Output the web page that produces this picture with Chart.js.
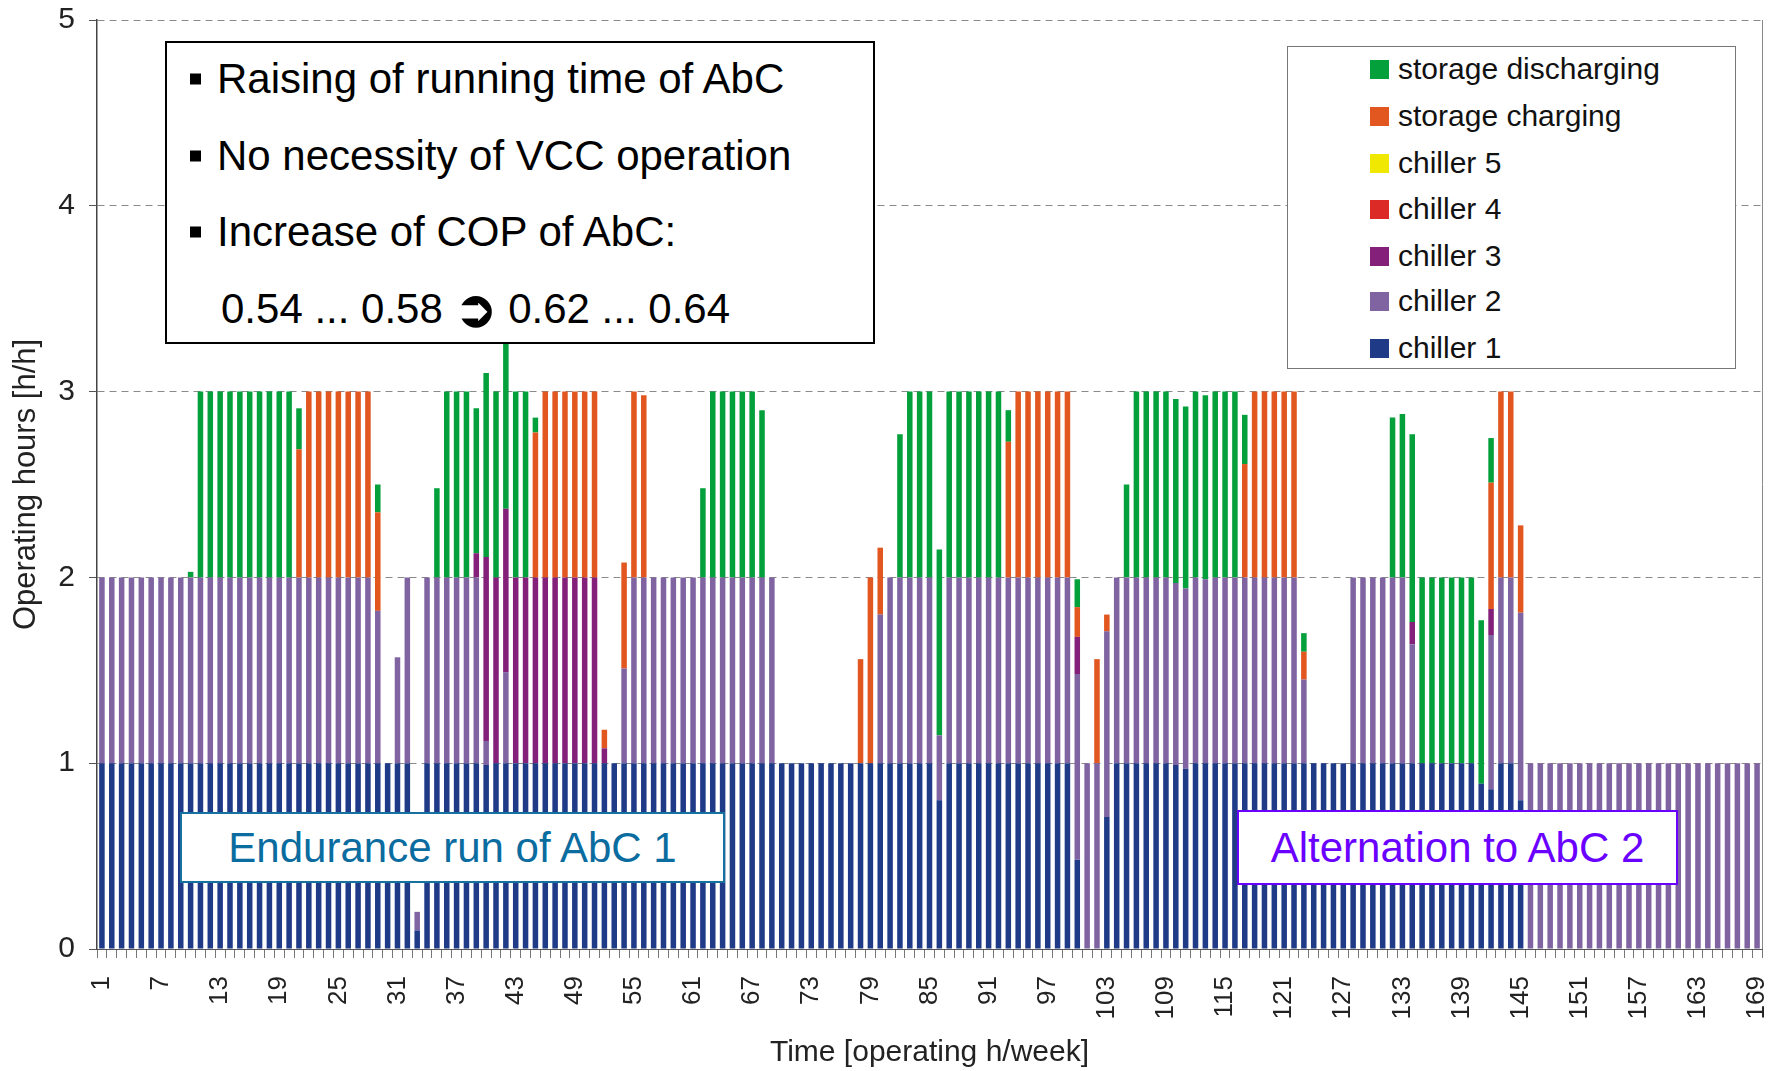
<!DOCTYPE html>
<html>
<head>
<meta charset="utf-8">
<title>Operating hours per chiller</title>
<script src="https://cdn.jsdelivr.net/npm/chart.js@4.4.1/dist/chart.umd.min.js"></script>
<style>
  body { margin: 0; background: #fff; font-family: "Liberation Sans", Arial, sans-serif; }
  #wrap { position: relative; width: 1785px; height: 1071px; }
  #chart { position: absolute; left: 0; top: 0; }
  .box { position: absolute; background: #fff; box-sizing: border-box; }
  .line { position: absolute; white-space: nowrap; transform: translateY(-50%); line-height: 1; }
  .bullet { position: absolute; width: 11px; height: 11px; background: #000; transform: translateY(-50%); }
  .arrow { font-size: 50px; font-weight: bold; vertical-align: -3px; }
  .tag { display: flex; align-items: center; justify-content: center; font-size: 42px; white-space: nowrap; }
  #legend { left: 1287px; top: 46px; width: 449px; height: 323px; border: 1px solid #777; }
  .item { position: absolute; left: 82px; font-size: 30px; color: #111; white-space: nowrap;
          transform: translateY(-50%); line-height: 1; display: flex; align-items: center; }
  .swatch { width: 19px; height: 19px; margin-right: 9px; }
</style>
</head>
<body>
<div id="wrap">
  <canvas id="chart" width="1785" height="1071"></canvas>

  <div class="box" style="left:165px; top:41px; width:710px; height:303px; border:2px solid #000;">
    <div class="bullet" style="left:23px; top:36px;"></div>
    <div class="line" style="left:50px; top:36px; font-size:42px;">Raising of running time of AbC</div>
    <div class="bullet" style="left:23px; top:113px;"></div>
    <div class="line" style="left:50px; top:113px; font-size:42px;">No necessity of VCC operation</div>
    <div class="bullet" style="left:23px; top:189px;"></div>
    <div class="line" style="left:50px; top:189px; font-size:42px;">Increase of COP of AbC:</div>
    <div class="line" style="left:54px; top:266px; font-size:42px;">0.54 ... 0.58 <span class="arrow">➲</span> 0.62 ... 0.64</div>
  </div>

  <div class="box tag" style="left:180px; top:812px; width:545px; height:71px; border:2px solid #1670a0; color:#0b6c9f;">Endurance run of AbC 1</div>
  <div class="box tag" style="left:1237px; top:810px; width:441px; height:75px; border:2px solid #6a00ff; color:#6a00ff;">Alternation to AbC 2</div>

  <div class="box" id="legend"></div>
</div>

<script>
const hours = [];
for (let h = 1; h <= 169; h++) hours.push(String(h));

const chiller1 = [
  1, 1, 1, 1, 1, 1, 1, 1, 1, 1,
  1, 1, 1, 1, 1, 1, 1, 1, 1, 1,
  1, 1, 1, 1, 1, 1, 1, 1, 1, 1,
  1, 1, 0.1, 1, 1, 1, 1, 1, 1, 0.99,
  1, 1, 1, 1, 1, 1, 1, 1, 1, 1,
  1, 1, 1, 1, 1, 1, 1, 1, 1, 1,
  1, 1, 1, 1, 1, 1, 1, 1, 1, 1,
  1, 1, 1, 1, 1, 1, 1, 1, 1, 1,
  1, 1, 1, 1, 1, 0.8, 1, 1, 1, 1,
  1, 1, 1, 1, 1, 1, 1, 1, 1, 0.48,
  0, 0, 0.71, 1, 1, 1, 1, 1, 1, 0.99,
  0.97, 1, 1, 1, 1, 1, 1, 1, 1, 1,
  1, 1, 1, 1, 1, 1, 1, 1, 1, 1,
  1, 1, 1, 1, 1, 1, 1, 1, 1, 1,
  0.89, 0.86, 1, 1, 0.8, 0, 0, 0, 0, 0,
  0, 0, 0, 0, 0, 0, 0, 0, 0, 0,
  0, 0, 0, 0, 0, 0, 0, 0, 0
];

const chiller2 = [
  1, 1, 1, 1, 1, 1, 1, 1, 1, 1,
  1, 1, 1, 1, 1, 1, 1, 1, 1, 1,
  1, 1, 1, 1, 1, 1, 1, 1, 0.82, 0,
  0.57, 1, 0.1, 1, 1, 1, 1, 1, 1, 0.13,
  0, 0.49, 0, 0, 0, 0, 0, 0, 0, 0,
  0, 0, 0, 0.51, 1, 1, 1, 1, 1, 1,
  1, 1, 1, 1, 1, 1, 1, 1, 1, 0,
  0, 0, 0, 0, 0, 0, 0, 0, 0, 0.8,
  1, 1, 1, 1, 1, 0.35, 1, 1, 1, 1,
  1, 1, 1, 1, 1, 1, 1, 1, 1, 1,
  1, 1, 1, 1, 1, 1, 1, 1, 1, 0.98,
  0.97, 1, 0.99, 1, 1, 1, 1, 1, 1, 1,
  1, 1, 0.45, 0, 0, 0, 0, 1, 1, 1,
  1, 1, 1, 0.64, 0, 0, 0, 0, 0, 0,
  0, 0.83, 1, 1, 1.01, 1, 1, 1, 1, 1,
  1, 1, 1, 1, 1, 1, 1, 1, 1, 1,
  1, 1, 1, 1, 1, 1, 1, 1, 1
];

const chiller3 = [
  0, 0, 0, 0, 0, 0, 0, 0, 0, 0,
  0, 0, 0, 0, 0, 0, 0, 0, 0, 0,
  0, 0, 0, 0, 0, 0, 0, 0, 0, 0,
  0, 0, 0, 0, 0, 0, 0, 0, 0.13, 0.99,
  1, 0.88, 1, 1, 1, 1, 1, 1, 1, 1,
  1, 0.08, 0, 0, 0, 0, 0, 0, 0, 0,
  0, 0, 0, 0, 0, 0, 0, 0, 0, 0,
  0, 0, 0, 0, 0, 0, 0, 0, 0, 0,
  0, 0, 0, 0, 0, 0, 0, 0, 0, 0,
  0, 0, 0, 0, 0, 0, 0, 0, 0, 0.2,
  0, 0, 0, 0, 0, 0, 0, 0, 0, 0,
  0, 0, 0, 0, 0, 0, 0, 0, 0, 0,
  0, 0, 0, 0, 0, 0, 0, 0, 0, 0,
  0, 0, 0, 0.12, 0, 0, 0, 0, 0, 0,
  0, 0.14, 0, 0, 0, 0, 0, 0, 0, 0,
  0, 0, 0, 0, 0, 0, 0, 0, 0, 0,
  0, 0, 0, 0, 0, 0, 0, 0, 0
];

// chillers 4 and 5 never run in this week
const chiller4 = [
  0, 0, 0, 0, 0, 0, 0, 0, 0, 0, 0, 0, 0, 0, 0, 0, 0, 0, 0, 0,
  0, 0, 0, 0, 0, 0, 0, 0, 0, 0, 0, 0, 0, 0, 0, 0, 0, 0, 0, 0,
  0, 0, 0, 0, 0, 0, 0, 0, 0, 0, 0, 0, 0, 0, 0, 0, 0, 0, 0, 0,
  0, 0, 0, 0, 0, 0, 0, 0, 0, 0, 0, 0, 0, 0, 0, 0, 0, 0, 0, 0,
  0, 0, 0, 0, 0, 0, 0, 0, 0, 0, 0, 0, 0, 0, 0, 0, 0, 0, 0, 0,
  0, 0, 0, 0, 0, 0, 0, 0, 0, 0, 0, 0, 0, 0, 0, 0, 0, 0, 0, 0,
  0, 0, 0, 0, 0, 0, 0, 0, 0, 0, 0, 0, 0, 0, 0, 0, 0, 0, 0, 0,
  0, 0, 0, 0, 0, 0, 0, 0, 0, 0, 0, 0, 0, 0, 0, 0, 0, 0, 0, 0,
  0, 0, 0, 0, 0, 0, 0, 0, 0
];

const chiller5 = [
  0, 0, 0, 0, 0, 0, 0, 0, 0, 0, 0, 0, 0, 0, 0, 0, 0, 0, 0, 0,
  0, 0, 0, 0, 0, 0, 0, 0, 0, 0, 0, 0, 0, 0, 0, 0, 0, 0, 0, 0,
  0, 0, 0, 0, 0, 0, 0, 0, 0, 0, 0, 0, 0, 0, 0, 0, 0, 0, 0, 0,
  0, 0, 0, 0, 0, 0, 0, 0, 0, 0, 0, 0, 0, 0, 0, 0, 0, 0, 0, 0,
  0, 0, 0, 0, 0, 0, 0, 0, 0, 0, 0, 0, 0, 0, 0, 0, 0, 0, 0, 0,
  0, 0, 0, 0, 0, 0, 0, 0, 0, 0, 0, 0, 0, 0, 0, 0, 0, 0, 0, 0,
  0, 0, 0, 0, 0, 0, 0, 0, 0, 0, 0, 0, 0, 0, 0, 0, 0, 0, 0, 0,
  0, 0, 0, 0, 0, 0, 0, 0, 0, 0, 0, 0, 0, 0, 0, 0, 0, 0, 0, 0,
  0, 0, 0, 0, 0, 0, 0, 0, 0
];

const storageCharging = [
  0, 0, 0, 0, 0, 0, 0, 0, 0, 0,
  0, 0, 0, 0, 0, 0, 0, 0, 0, 0,
  0.69, 1, 1, 1, 1, 1, 1, 1, 0.53, 0,
  0, 0, 0, 0, 0, 0, 0, 0, 0, 0,
  0, 0, 0, 0, 0.78, 1, 1, 1, 1, 1,
  1, 0.1, 0, 0.57, 1, 0.98, 0, 0, 0, 0,
  0, 0, 0, 0, 0, 0, 0, 0, 0, 0,
  0, 0, 0, 0, 0, 0, 0, 0.56, 1, 0.36,
  0, 0, 0, 0, 0, 0, 0, 0, 0, 0,
  0, 0, 0.73, 1, 1, 1, 1, 1, 1, 0.16,
  0, 0.56, 0.09, 0, 0, 0, 0, 0, 0, 0,
  0, 0, 0, 0, 0, 0, 0.61, 1, 1, 1,
  1, 1, 0.15, 0, 0, 0, 0, 0, 0, 0,
  0, 0, 0, 0, 0, 0, 0, 0, 0, 0,
  0, 0.68, 1, 1, 0.47, 0, 0, 0, 0, 0,
  0, 0, 0, 0, 0, 0, 0, 0, 0, 0,
  0, 0, 0, 0, 0, 0, 0, 0, 0
];

const storageDischarging = [
  0, 0, 0, 0, 0, 0, 0, 0, 0, 0.03,
  1, 1, 1, 1, 1, 1, 1, 1, 1, 1,
  0.22, 0, 0, 0, 0, 0, 0, 0, 0.15, 0,
  0, 0, 0, 0, 0.48, 1, 1, 1, 0.78, 0.99,
  1, 1, 1, 1, 0.08, 0, 0, 0, 0, 0,
  0, 0, 0, 0, 0, 0, 0, 0, 0, 0,
  0, 0.48, 1, 1, 1, 1, 1, 0.9, 0, 0,
  0, 0, 0, 0, 0, 0, 0, 0, 0, 0,
  0, 0.77, 1, 1, 1, 1, 1, 1, 1, 1,
  1, 1, 0.17, 0, 0, 0, 0, 0, 0, 0.15,
  0, 0, 0, 0, 0.5, 1, 1, 1, 1, 0.99,
  0.98, 1, 0.99, 1, 1, 1, 0.265, 0, 0, 0,
  0, 0, 0.1, 0, 0, 0, 0, 0, 0, 0,
  0, 0.86, 0.88, 1.01, 1, 1, 1, 1, 1, 1,
  0.88, 0.24, 0, 0, 0, 0, 0, 0, 0, 0,
  0, 0, 0, 0, 0, 0, 0, 0, 0, 0,
  0, 0, 0, 0, 0, 0, 0, 0, 0
];

const yTicks = [0, 1, 2, 3, 4, 5];

const FONT = "'Liberation Sans', Arial, sans-serif";

function bars(label, data, color) {
  return {
    label,
    data,
    backgroundColor: color,
    borderWidth: 0,
    barPercentage: 0.56,
    categoryPercentage: 1.0,
  };
}

const plotFrame = {
  id: "plotFrame",
  afterDraw(chart) {
    const { ctx, chartArea: a } = chart;
    ctx.save();
    ctx.strokeStyle = "#888";
    ctx.lineWidth = 1;
    ctx.beginPath();
    ctx.moveTo(a.right + 0.5, a.top);
    ctx.lineTo(a.right + 0.5, a.bottom);
    ctx.stroke();
    ctx.restore();
  },
};

const chart = new Chart(document.getElementById("chart"), {
  type: "bar",
  data: {
    labels: hours,
    datasets: [
      bars("chiller 1", chiller1, "#1f3b87"),
      bars("chiller 2", chiller2, "#8064a2"),
      bars("chiller 3", chiller3, "#84207a"),
      bars("chiller 4", chiller4, "#dc2a26"),
      bars("chiller 5", chiller5, "#f0e800"),
      bars("storage charging", storageCharging, "#e2561f"),
      bars("storage discharging", storageDischarging, "#04a03c"),
    ],
  },
  options: {
    responsive: false,
    animation: false,
    layout: { padding: { top: 20, right: 23, left: 0, bottom: 0 } },
    plugins: {
      legend: { display: false },
      tooltip: { enabled: false },
    },
    scales: {
      x: {
        stacked: true,
        grid: { drawOnChartArea: false, tickLength: 9, tickColor: "#777", offset: true },
        border: { color: "#555", width: 1 },
        ticks: {
          autoSkip: false,
          maxRotation: 90,
          minRotation: 90,
          padding: 18,
          color: "#222",
          font: { family: FONT, size: 26 },
          callback: function (val, i) {
            return i % 6 === 0 ? this.getLabelForValue(val) : "";
          },
        },
        title: {
          display: true,
          text: "Time [operating h/week]",
          color: "#222",
          font: { family: FONT, size: 30 },
          padding: { top: 4, bottom: 0 },
        },
        afterFit: (s) => {
          s.height = 122;
          s.paddingLeft = 0;
          s.paddingRight = 0;
        },
      },
      y: {
        stacked: true,
        min: yTicks[0],
        max: yTicks[yTicks.length - 1],
        afterBuildTicks: (s) => { s.ticks = yTicks.map((v) => ({ value: v })); },
        grid: { color: "#8a8a8a", tickColor: "#555", tickLength: 8 },
        border: { color: "#444", width: 1.5, dash: [7, 5] },
        ticks: {
          padding: 14,
          color: "#222",
          font: { family: FONT, size: 30 },
        },
        title: {
          display: true,
          text: "Operating hours [h/h]",
          color: "#222",
          font: { family: FONT, size: 31 },
          padding: { top: 8, bottom: 2 },
        },
        afterFit: (s) => {
          s.width = 97;
          s.paddingTop = 0;
          s.paddingBottom = 0;
        },
      },
    },
  },
  plugins: [plotFrame],
});

// legend box, top item is the last stacked series
const legend = document.getElementById("legend");
const rowTops = [22, 69, 116, 162, 209, 254, 301];
chart.data.datasets.slice().reverse().forEach((ds, i) => {
  const item = document.createElement("div");
  item.className = "item";
  item.style.top = rowTops[i] + "px";
  item.innerHTML = `<span class="swatch" style="background:${ds.backgroundColor}"></span>${ds.label}`;
  legend.appendChild(item);
});
</script>
</body>
</html>
